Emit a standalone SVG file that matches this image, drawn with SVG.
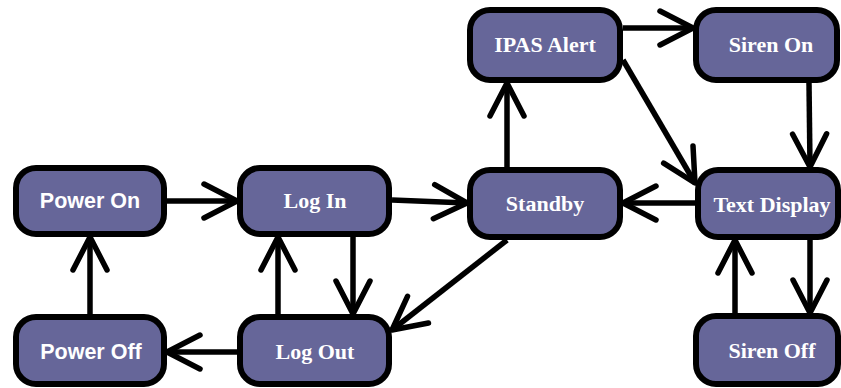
<svg xmlns="http://www.w3.org/2000/svg" width="841" height="388" viewBox="0 0 841 388">
<style>
.box{fill:#666699;stroke:#000;stroke-width:6}
.serif{font-family:"Liberation Serif","Times New Roman",serif;font-weight:bold;font-size:22px;fill:#fff;text-anchor:middle}
.sans{font-family:"Liberation Sans",Arial,sans-serif;font-weight:bold;font-size:21.5px;fill:#fff;text-anchor:middle}
.edge{fill:none;stroke:#000;stroke-width:5.5;marker-end:url(#arr)}
</style>
<defs>
<marker id="arr" markerUnits="userSpaceOnUse" orient="auto" markerWidth="50" markerHeight="50" refX="0" refY="0" viewBox="-45 -25 50 50" overflow="visible">
<path d="M-33,-17 L0,0 L-33,17" fill="none" stroke="#000" stroke-width="5.5" stroke-linecap="round" stroke-linejoin="round"/>
</marker>
</defs>
<g id="connectors">
<line class="edge" x1="167" y1="201" x2="237" y2="201"/>
<line class="edge" x1="90" y1="314" x2="90" y2="237"/>
<line class="edge" x1="237" y1="352" x2="167" y2="352"/>
<line class="edge" x1="278" y1="314" x2="278" y2="237"/>
<line class="edge" x1="353" y1="236" x2="353" y2="314"/>
<line class="edge" x1="392" y1="200" x2="467" y2="203"/>
<line class="edge" x1="507" y1="167" x2="507" y2="83"/>
<line class="edge" x1="623" y1="28" x2="693" y2="28"/>
<line class="edge" x1="623" y1="60" x2="695" y2="183"/>
<line class="edge" x1="809" y1="83" x2="810" y2="167"/>
<line class="edge" x1="695" y1="203" x2="623" y2="203"/>
<line class="edge" x1="507" y1="240" x2="392" y2="330"/>
<line class="edge" x1="735" y1="313" x2="735" y2="240"/>
<line class="edge" x1="810" y1="240" x2="810" y2="313"/>
</g>
<g id="power-on"><rect class="box" x="16" y="168" width="148" height="66" rx="20"/><text class="sans" x="90" y="208">Power On</text></g>
<g id="log-in"><rect class="box" x="240" y="168" width="149" height="66" rx="20"/><text class="serif" x="315" y="208">Log In</text></g>
<g id="power-off"><rect class="box" x="16" y="317" width="148" height="67" rx="20"/><text class="sans" x="91" y="359">Power Off</text></g>
<g id="log-out"><rect class="box" x="240" y="317" width="149" height="67" rx="20"/><text class="serif" x="315" y="359">Log Out</text></g>
<g id="ipas-alert"><rect class="box" x="470" y="10" width="150" height="70" rx="20"/><text class="serif" x="545" y="52">IPAS Alert</text></g>
<g id="siren-on"><rect class="box" x="696" y="10" width="141" height="70" rx="20"/><text class="serif" x="771" y="52">Siren On</text></g>
<g id="standby"><rect class="box" x="470" y="170" width="150" height="67" rx="20"/><text class="serif" x="545" y="211">Standby</text></g>
<g id="text-display"><rect class="box" x="698" y="170" width="140" height="67" rx="20"/><text class="serif" x="772" y="212">Text Display</text></g>
<g id="siren-off"><rect class="box" x="696" y="316" width="142" height="68" rx="20"/><text class="serif" x="772" y="358">Siren Off</text></g>
</svg>
